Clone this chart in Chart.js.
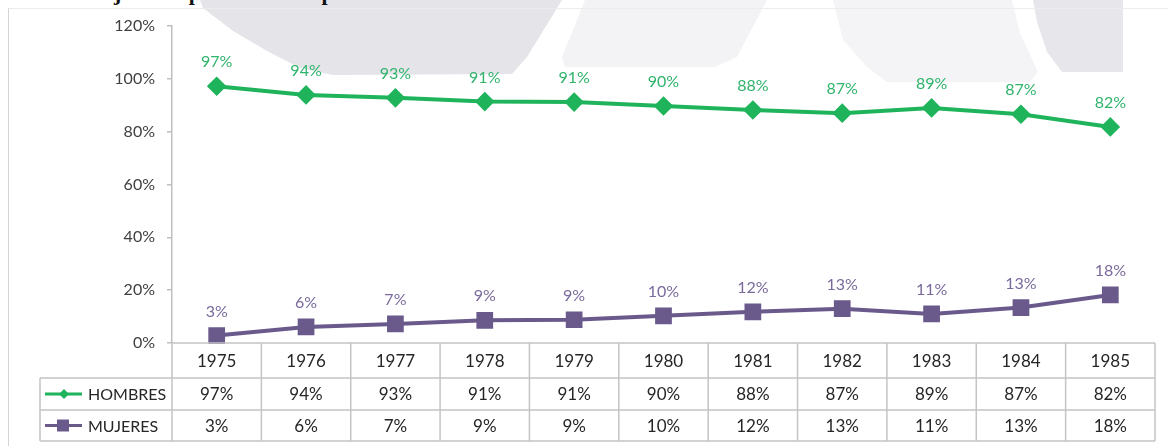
<!DOCTYPE html>
<html>
<head>
<meta charset="utf-8">
<script src="https://cdn.jsdelivr.net/npm/chart.js@4"></script>
<style>
  body { margin: 0; background: #fff; }
  #wrap { position: relative; width: 1168px; height: 446px; overflow: hidden; background: #fff; }
  #fondo { position: absolute; left: 0; top: 0; }
  #titulo { position: absolute; left: 57px; top: -18px; font: bold 22px/22px "Liberation Serif", serif; color: #111; white-space: nowrap; }
  #marco { position: absolute; left: 8px; top: 8px; right: -2px; bottom: -2px; border-left: 1px solid #d4d4d4; border-top: 1px solid #ececec; }
  canvas { position: absolute; left: 0; top: 0; }
</style>
</head>
<body>
<div id="wrap">
  <svg id="fondo" width="1168" height="446">
    <polygon fill="#e4e4e9" points="200,0 562,0 527,57 512,74 333,75 300,68 267,51 233,31 203,8"/>
    <polygon fill="#f3f3f6" points="585,0 767,0 737,57 715,67 565,67 562,57"/>
    <polygon fill="#f4f4f7" points="833,0 1012,0 1020,33 1038,72 1030,82 887,82 867,67 843,40"/>
    <polygon fill="#e6e6eb" points="1033,0 1123,0 1123,72 1062,72 1047,52 1037,22"/>
  </svg>
  <div id="titulo">Trabajadores por sexo en el periodo 1975 - 1985</div>
  <div id="marco"></div>
  <canvas id="grafico" width="1168" height="446"></canvas>
</div>
<script>
// datos del grafico
const years = ['1975', '1976', '1977', '1978', '1979', '1980', '1981', '1982', '1983', '1984', '1985'];
const hombres = [97.2, 93.9, 92.8, 91.4, 91.2, 89.7, 88.2, 87.0, 89.0, 86.6, 81.8];
const mujeres = [2.8, 6.1, 7.2, 8.6, 8.8, 10.3, 11.8, 13.0, 11.0, 13.4, 18.2];
const yTicks = [0, 20, 40, 60, 80, 100, 120];

const verde = '#1fb45c';
const morado = '#6a5a8c';
const fuente = 'Lato, "Open Sans", sans-serif';

const pct = v => Math.round(v) + '%';

const etiquetas = {
    id: 'etiquetas',
    afterDatasetsDraw(chart) {
        const ctx = chart.ctx;
        ctx.save();
        ctx.font = '16px ' + fuente;
        ctx.textAlign = 'center';
        ctx.textBaseline = 'middle';
        chart.data.datasets.forEach((ds, i) => {
            ctx.fillStyle = i === 0 ? '#2fb46c' : '#7a6a9c';
            chart.getDatasetMeta(i).data.forEach((pt, j) => {
                ctx.fillText(pct(ds.data[j]), pt.x, pt.y - 24);
            });
        });
        ctx.restore();
    }
};

const tabla = {
    id: 'tabla',
    afterDraw(chart) {
        const ctx = chart.ctx;
        const a = chart.chartArea;
        const x = chart.scales.x;
        const step = x.getPixelForValue(1) - x.getPixelForValue(0);
        const rows = [a.bottom, a.bottom + 35, a.bottom + 67, a.bottom + 98];
        const legendLeft = 40;
        ctx.save();
        ctx.strokeStyle = '#c4c4c4';
        ctx.lineWidth = 1.5;
        ctx.beginPath();
        // horizontales
        ctx.moveTo(a.left, rows[0]); ctx.lineTo(a.right, rows[0]);
        for (let r = 1; r < rows.length; r++) {
            ctx.moveTo(legendLeft, rows[r]); ctx.lineTo(a.right, rows[r]);
        }
        // verticales
        for (let i = 0; i <= years.length; i++) {
            const px = x.getPixelForValue(i) - step / 2;
            ctx.moveTo(px, rows[0]); ctx.lineTo(px, rows[3]);
        }
        ctx.moveTo(legendLeft, rows[1]); ctx.lineTo(legendLeft, rows[3]);
        ctx.stroke();

        ctx.fillStyle = '#262626';
        ctx.textAlign = 'center';
        ctx.textBaseline = 'middle';
        ctx.font = '17px ' + fuente;
        years.forEach((yr, i) => {
            const px = x.getPixelForValue(i);
            ctx.fillText(yr, px, (rows[0] + rows[1]) / 2 + 1);
            ctx.fillText(pct(hombres[i]), px, (rows[1] + rows[2]) / 2 + 1);
            ctx.fillText(pct(mujeres[i]), px, (rows[2] + rows[3]) / 2 + 1);
        });

        // leyenda dentro de la tabla
        const series = [
            { name: 'HOMBRES', color: verde, y: (rows[1] + rows[2]) / 2 },
            { name: 'MUJERES', color: morado, y: (rows[2] + rows[3]) / 2 }
        ];
        series.forEach((s, i) => {
            ctx.strokeStyle = s.color;
            ctx.fillStyle = s.color;
            ctx.lineWidth = 3;
            ctx.beginPath();
            ctx.moveTo(45, s.y); ctx.lineTo(82, s.y);
            ctx.stroke();
            ctx.beginPath();
            if (i === 0) {
                ctx.moveTo(64, s.y - 5); ctx.lineTo(69, s.y); ctx.lineTo(64, s.y + 5); ctx.lineTo(59, s.y);
                ctx.closePath();
            } else {
                ctx.rect(57, s.y - 6, 12, 12);
            }
            ctx.fill();
            ctx.fillStyle = '#262626';
            ctx.textAlign = 'left';
            ctx.font = '16px ' + fuente;
            ctx.fillText(s.name, 88, s.y + 1);
        });
        ctx.restore();
    }
};

new Chart(document.getElementById('grafico'), {
    type: 'line',
    data: {
        labels: years,
        datasets: [
            {
                label: 'HOMBRES',
                data: hombres,
                borderColor: verde,
                backgroundColor: verde,
                borderWidth: 4,
                pointStyle: 'rectRot',
                pointRadius: 7,
                pointHoverRadius: 7,
                tension: 0
            },
            {
                label: 'MUJERES',
                data: mujeres,
                borderColor: morado,
                backgroundColor: morado,
                borderWidth: 4,
                pointStyle: 'rect',
                pointRadius: 9,
                pointHoverRadius: 9,
                tension: 0
            }
        ]
    },
    options: {
        responsive: false,
        animation: false,
        clip: false,
        layout: { padding: { top: 26, bottom: 103, left: 0, right: 9 } },
        plugins: {
            legend: { display: false },
            tooltip: { enabled: false }
        },
        scales: {
            x: {
                display: false,
                offset: true
            },
            y: {
                min: 0,
                max: 120,
                afterFit: s => { s.width = 172; },
                afterBuildTicks: s => { s.ticks = yTicks.map(v => ({ value: v })); },
                ticks: {
                    callback: v => v + '%',
                    color: '#404040',
                    padding: 12,
                    font: { family: fuente, size: 16 }
                },
                grid: { drawOnChartArea: false, drawTicks: true, tickLength: 5, color: '#bfbfbf', lineWidth: 1.5 },
                border: { color: '#bfbfbf', width: 1.5 }
            }
        }
    },
    plugins: [etiquetas, tabla]
});
</script>
</body>
</html>
